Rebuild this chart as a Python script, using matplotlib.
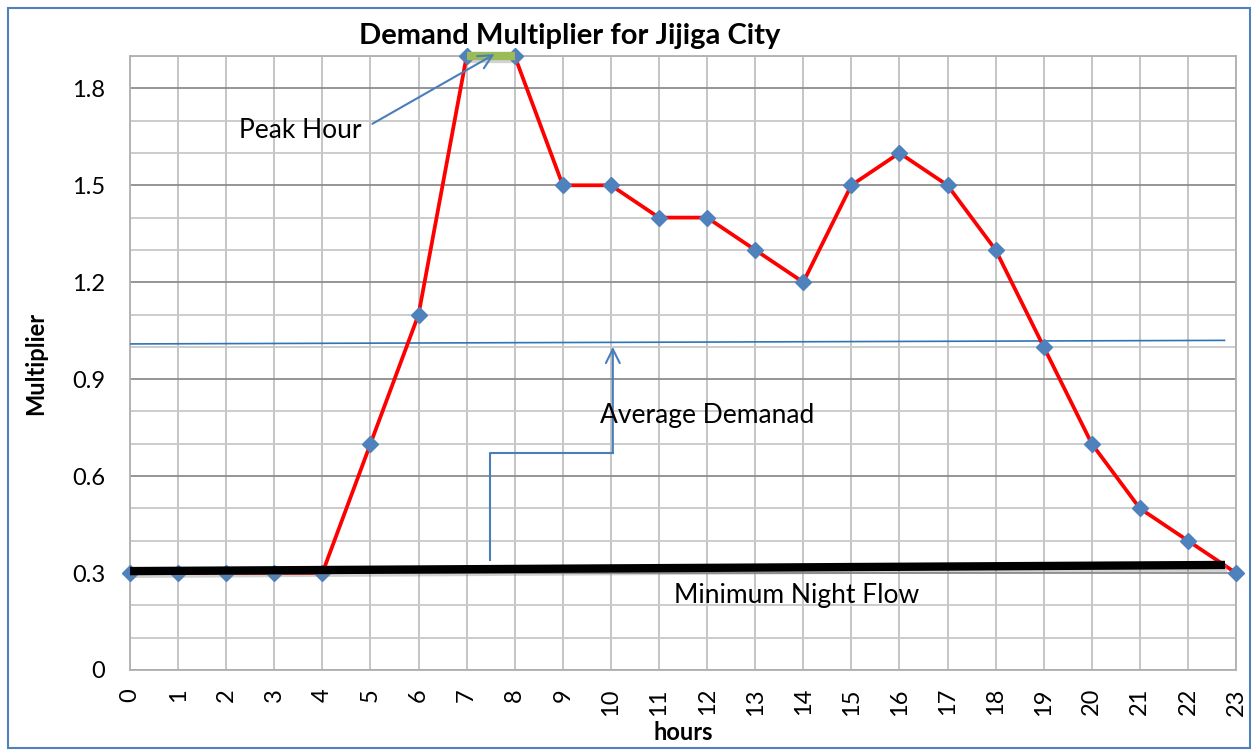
import matplotlib.pyplot as plt
import matplotlib.patheffects as pe
from matplotlib.ticker import MultipleLocator
import numpy as np

plt.rcParams['font.family'] = ['Lato', 'DejaVu Sans']

# data
hours = list(range(24))
multiplier = [0.3, 0.3, 0.3, 0.3, 0.3, 0.7, 1.1, 1.9, 1.9, 1.5, 1.5, 1.4,
              1.4, 1.3, 1.2, 1.5, 1.6, 1.5, 1.3, 1.0, 0.7, 0.5, 0.4, 0.3]
avg_x = [0, 22.76]
avg_y = [1.009, 1.02]
night_x = [0, 22.77]
night_y = [0.306, 0.325]
peak_x = [7, 8]
peak_y = [1.9, 1.9]
elbow_x = [7.48, 7.48, 10.04, 10.04]
elbow_y = [0.34, 0.671, 0.671, 1.0]

fig = plt.figure(figsize=(12.55, 7.51), dpi=100)
ax = fig.add_axes([0.1036, 0.1079, 0.8813, 0.8175])

ax.set_xlim(0, 23)
ax.set_ylim(0, 1.9)
ax.set_xticks(hours)
ax.yaxis.set_major_locator(MultipleLocator(0.3))
ax.yaxis.set_minor_locator(MultipleLocator(0.1))
ax.grid(which='minor', axis='y', color='#c8c8c8', lw=1.3)
ax.grid(which='major', axis='y', color='#8c8c8c', lw=1.3)
ax.grid(which='major', axis='x', color='#c0c0c0', lw=1.3)
ax.set_axisbelow(True)
for s in ax.spines.values():
    s.set_color('#b0b0b0')
    s.set_linewidth(1.3)
ax.tick_params(which='both', length=0, labelsize=17)
ax.tick_params(axis='y', pad=18)
ax.tick_params(axis='x', labelrotation=90, pad=13)
ax.set_yticks(np.arange(0, 1.81, 0.3))
ax.set_yticklabels(['0', '0.3', '0.6', '0.9', '1.2', '1.5', '1.8'])

shadow = [pe.SimpleLineShadow(offset=(1.5, -2), alpha=0.35, shadow_color='gray'), pe.Normal()]

ax.plot(avg_x, avg_y, color='#2e75b6', lw=1.2, zorder=3)
ax.plot(hours, multiplier, color='#ff0000', lw=2.7, marker='D', ms=8,
        mfc='#4f81bd', mec='#4f81bd', zorder=4, clip_on=False)
ax.plot(night_x, night_y, color='black', lw=6, zorder=5, path_effects=shadow,
        solid_capstyle='butt')
ax.plot(peak_x, peak_y, color='#9bbb59', lw=6, zorder=5, path_effects=shadow,
        clip_on=False, solid_capstyle='butt')

# annotations
ax.annotate('', xy=(7.63, 1.91), xytext=(4.99, 1.686),
            arrowprops=dict(arrowstyle='->', color='#4a7ebb', lw=1.5,
                            mutation_scale=25), annotation_clip=False, zorder=6)
ax.text(3.53, 1.67, 'Peak Hour', fontsize=19, ha='center', va='center', zorder=6)
ax.plot(elbow_x[:-1], elbow_y[:-1], color='#4a7ebb', lw=1.5, zorder=6)
ax.annotate('', xy=(elbow_x[3], elbow_y[3]), xytext=(elbow_x[2], elbow_y[2]),
            arrowprops=dict(arrowstyle='->', color='#4a7ebb', lw=1.5,
                            mutation_scale=25, shrinkA=0, shrinkB=0), zorder=6)
ax.text(9.77, 0.789, 'Average Demanad', fontsize=19, ha='left', va='center', zorder=6)
ax.text(13.87, 0.232, 'Minimum Night Flow', fontsize=19, ha='center', va='center', zorder=6)

fig.text(0.454, 0.952, 'Demand Multiplier for Jijiga City', fontsize=21,
         fontweight='bold', ha='center', va='center')
ax.set_ylabel('Multiplier', fontsize=17, fontweight='bold', labelpad=18)
ax.set_xlabel('hours', fontsize=17, fontweight='bold', labelpad=4)

# outer frame
fig.patches.append(plt.Rectangle((0.006, 0.004), 0.99, 0.986, transform=fig.transFigure,
                                 fill=False, edgecolor='#4f81bd', lw=1.5))

fig.savefig('out.png', dpi=100)
